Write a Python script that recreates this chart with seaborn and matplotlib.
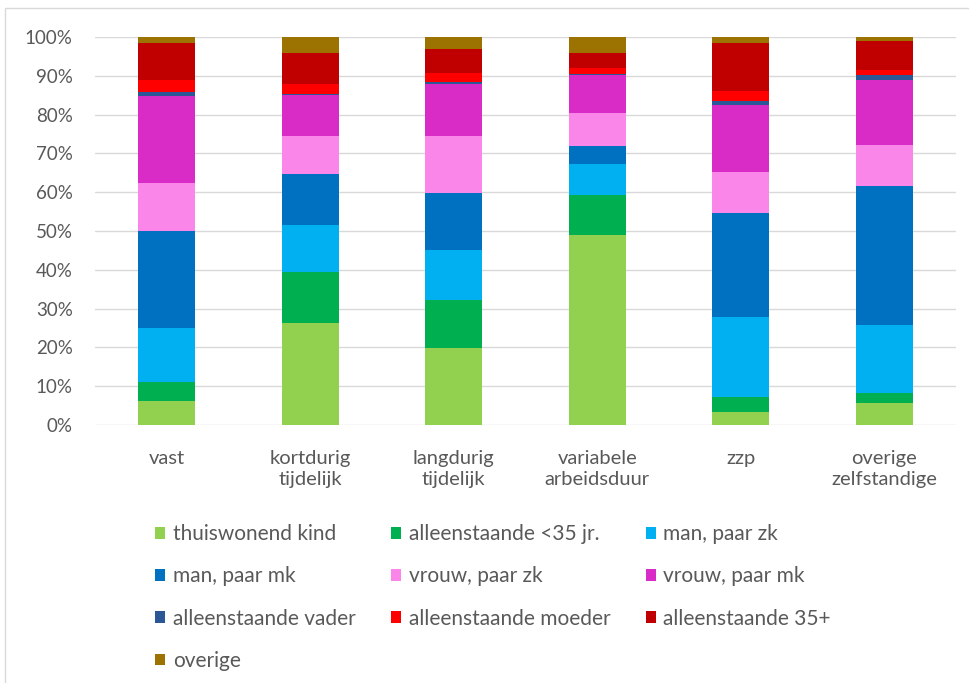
import matplotlib
matplotlib.use("Agg")
import matplotlib.pyplot as plt
from matplotlib.patches import Patch, Rectangle
from matplotlib.ticker import PercentFormatter
import numpy as np
import pandas as pd
import seaborn as sns

# Werkvorm categories (x axis)
categories = ["vast", "kortdurig\ntijdelijk", "langdurig\ntijdelijk",
              "variabele\narbeidsduur", "zzp", "overige\nzelfstandige"]

# Household position shares (%) per werkvorm, bottom to top of each stack
series_names = ["thuiswonend kind", "alleenstaande <35 jr.", "man, paar zk",
                "man, paar mk", "vrouw, paar zk", "vrouw, paar mk",
                "alleenstaande vader", "alleenstaande moeder",
                "alleenstaande 35+", "overige"]
thuiswonend_kind = [6.2, 26.3, 19.8, 49.0, 3.4, 5.6]
alleenstaande_jong = [5.0, 13.1, 12.4, 10.2, 3.9, 2.7]
man_paar_zk = [13.7, 12.2, 12.8, 8.0, 20.6, 17.5]
man_paar_mk = [25.1, 13.1, 14.8, 4.7, 26.7, 35.7]
vrouw_paar_zk = [12.4, 9.9, 14.8, 8.6, 10.7, 10.7]
vrouw_paar_mk = [22.3, 10.4, 13.2, 9.8, 17.2, 16.8]
alleenstaande_vader = [1.1, 0.4, 0.6, 0.2, 0.9, 1.3]
alleenstaande_moeder = [3.0, 2.6, 2.4, 1.5, 2.6, 1.1]
alleenstaande_35plus = [9.7, 7.8, 6.1, 3.8, 12.5, 7.5]
overige = [1.5, 4.2, 3.1, 4.2, 1.5, 1.1]

colors = ["#92D050", "#00B050", "#00B0F0", "#0070C0", "#FA86E9",
          "#D92CC6", "#2B5797", "#FF0000", "#C00000", "#9C7300"]

values = [thuiswonend_kind, alleenstaande_jong, man_paar_zk, man_paar_mk,
          vrouw_paar_zk, vrouw_paar_mk, alleenstaande_vader,
          alleenstaande_moeder, alleenstaande_35plus, overige]

sns.set_theme(style="white")
plt.rcParams["font.family"] = ["Lato", "DejaVu Sans"]
text_color = "#595959"

data = pd.DataFrame(np.array(values).T, columns=series_names)
data.insert(0, "werkvorm", categories)
cumulative = data[series_names].cumsum(axis=1)

fig = plt.figure(figsize=(9.69, 6.83), dpi=100)
W, H = 969, 683
ax = fig.add_axes([95 / W, 1 - 425 / H, (956 - 95) / W, (425 - 37) / H])

# stacked bars: draw cumulative totals from the top series down
for name, color in zip(reversed(series_names), reversed(colors)):
    sns.barplot(x=data["werkvorm"], y=cumulative[name], color=color,
                saturation=1, width=0.4, ax=ax, linewidth=0, zorder=3)

ax.set_ylim(0, 100)
ax.set_xlim(-0.5, len(categories) - 0.5)
ax.set_yticks(np.arange(0, 101, 10))
ax.yaxis.set_major_formatter(PercentFormatter(decimals=0))
ax.grid(axis="y", color="#D9D9D9", linewidth=1, zorder=0)
ax.set_axisbelow(True)
for s in ax.spines.values():
    s.set_visible(False)
ax.set_xlabel("")
ax.set_ylabel("")
ax.tick_params(axis="y", length=0, pad=16, labelsize=13.5, labelcolor=text_color)
ax.tick_params(axis="x", length=0, pad=18, labelsize=14.5, labelcolor=text_color)
for lbl in ax.get_xticklabels():
    lbl.set_linespacing(1.3)

# legend: three columns, filled row by row
handles = [Patch(facecolor=c, edgecolor="none", label=n)
           for n, c in zip(series_names, colors)]
order = [0, 3, 6, 9, 1, 4, 7, 2, 5, 8]
leg = fig.legend([handles[i] for i in order], [series_names[i] for i in order],
                 ncol=3, loc="upper left", bbox_to_anchor=(155 / W, 1 - 524 / H),
                 frameon=False, fontsize=15, handlelength=0.5, handleheight=0.5,
                 handletextpad=0.35, columnspacing=1.7, labelspacing=1.07,
                 borderaxespad=0, borderpad=0)
for t in leg.get_texts():
    t.set_color(text_color)

# light chart-area frame
fig.patches.append(Rectangle((5 / W, -0.05), 1.2, 1 - 8 / H + 0.05,
                             transform=fig.transFigure, fill=False,
                             edgecolor="#D9D9D9", linewidth=1))

fig.savefig("out.png", dpi=100)
